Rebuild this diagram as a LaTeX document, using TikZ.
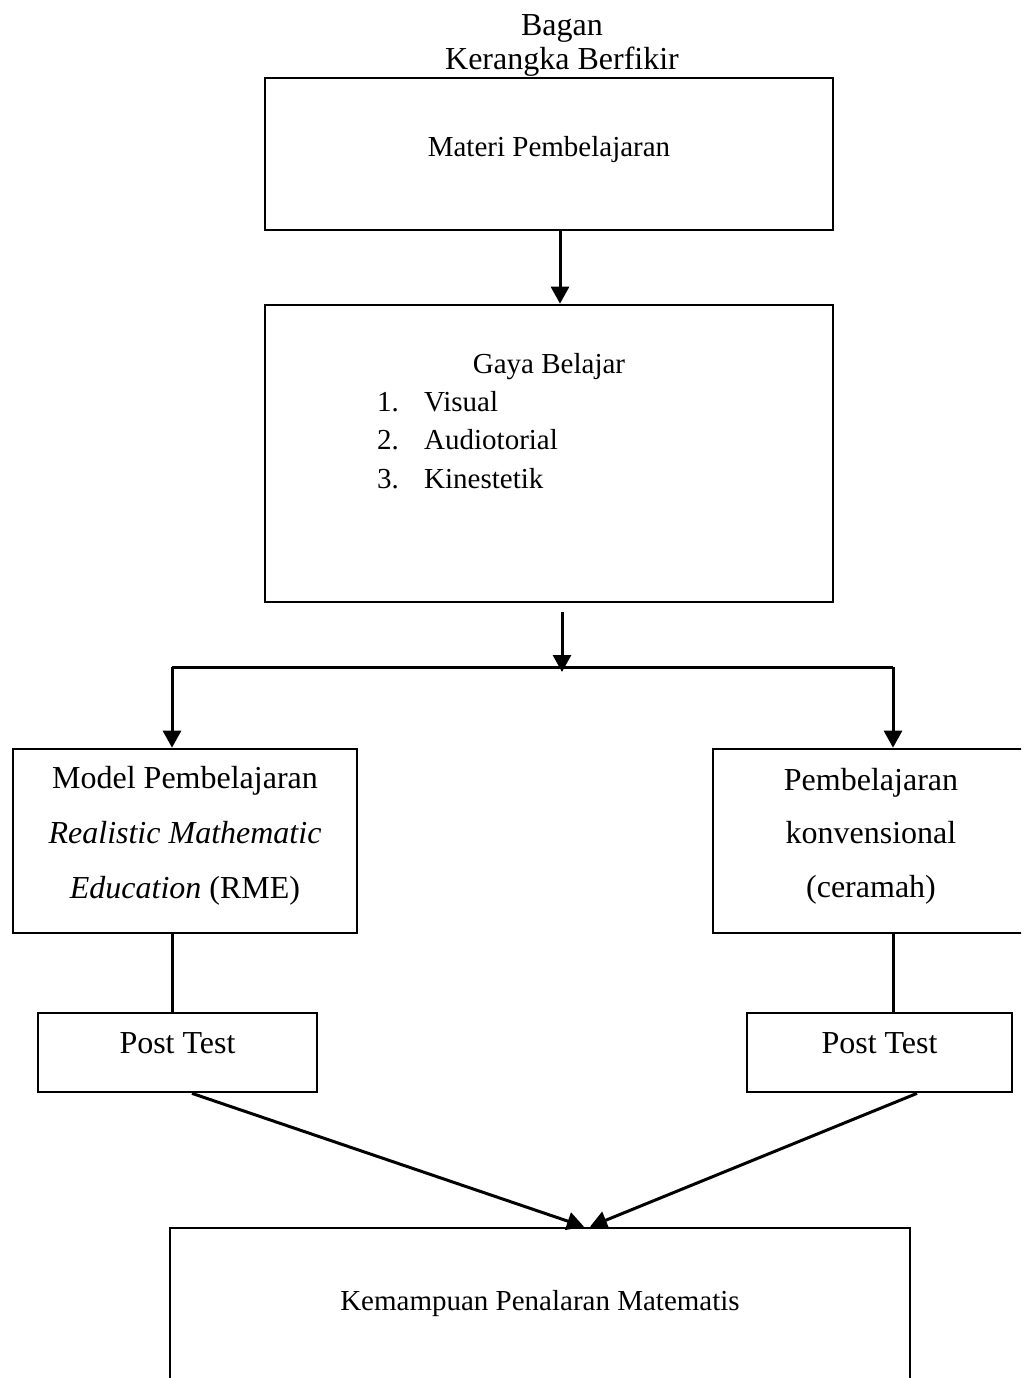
\documentclass[tikz,border=0pt]{standalone}
\usepackage{fontspec}
\setmainfont{Liberation Serif}
\usetikzlibrary{arrows.meta,calc}
\begin{document}
\begin{tikzpicture}[x=1pt,y=-1pt,
  box/.style={draw,line width=2.7pt,inner sep=0pt},
  conn/.style={line width=3pt},
  arr/.style={conn,-{Triangle[width=18pt,length=17pt]}},
  txt/.style={inner sep=0pt,anchor=base,font=\fontsize{29}{34}\selectfont},
  big/.style={inner sep=0pt,anchor=base,font=\fontsize{32}{38}\selectfont},
  lst/.style={inner sep=0pt,anchor=base west,font=\fontsize{29}{34}\selectfont},
]
\useasboundingbox (0,0) rectangle (1021,1378);
\clip (0,0) rectangle (1021,1378);

% title
\node[big] (t1) at (562,36) {Bagan};
\node[big] (t2) at (562,70) {Kerangka Berfikir};

% boxes
\node[box,minimum width=568pt,minimum height=152pt] (b1) at (549,154) {};
\node[txt] (b1t) at (549,157) {Materi Pembelajaran};

\node[box,minimum width=568pt,minimum height=297pt] (b2) at (549,453.5) {};
\node[txt] (b2t) at (549,373) {Gaya Belajar};
\node[lst] (n1) at (377,411) {1.};
\node[lst] (i1) at (424,411) {Visual};
\node[lst] (n2) at (377,449) {2.};
\node[lst] (i2) at (424,449) {Audiotorial};
\node[lst] (n3) at (377,488) {3.};
\node[lst] (i3) at (424,488) {Kinestetik};

\node[box,minimum width=344pt,minimum height=184pt] (lb) at (185,841) {};
\node[big] (lb1) at (185,788) {Model Pembelajaran};
\node[big] (lb2) at (185,843) {\itshape Realistic Mathematic};
\node[big] (lb3) at (185,898) {\textit{Education} (RME)};

\node[box,minimum width=347pt,minimum height=184pt] (rb) at (886.5,841) {};
\node[big] (rb1) at (871,790) {Pembelajaran};
\node[big] (rb2) at (871,843) {konvensional};
\node[big] (rb3) at (871,897) {(ceramah)};

\node[box,minimum width=279pt,minimum height=79pt] (pl) at (177.5,1052.5) {};
\node[big] (plt) at (177.5,1053) {Post Test};
\node[box,minimum width=265pt,minimum height=79pt] (pr) at (879.5,1052.5) {};
\node[big] (prt) at (879.5,1053) {Post Test};

\node[box,minimum width=740pt,minimum height=232pt] (bot) at (540,1344) {};
\node[txt] (bott) at (540,1310) {Kemampuan Penalaran Matematis};

% connectors
\draw[arr] ($(b1.south)+(11,0)$) -- ($(b2.north)+(11,0)$);
\coordinate (s2) at (562,612);
\coordinate (j) at (562,672);
\draw[arr] (s2) -- (j);
\coordinate (hl) at (172,667);
\coordinate (hr) at (893,667);
\draw[conn] (hl) -- (hr);
\draw[arr] (hl) -- (lb.north -| hl);
\draw[arr] (hr) -- (rb.north -| hr);
\draw[conn] (lb.south -| hl) -- (pl.north -| hl);
\draw[conn] (rb.south -| hr) -- (pr.north -| hr);
\draw[arr] ($(pl.south)+(14.5,0)$) -- ($(bot.north)+(44,0)$);
\draw[arr] ($(pr.south)+(37.5,0)$) -- ($(bot.north)+(50,0)$);
\end{tikzpicture}
\end{document}
